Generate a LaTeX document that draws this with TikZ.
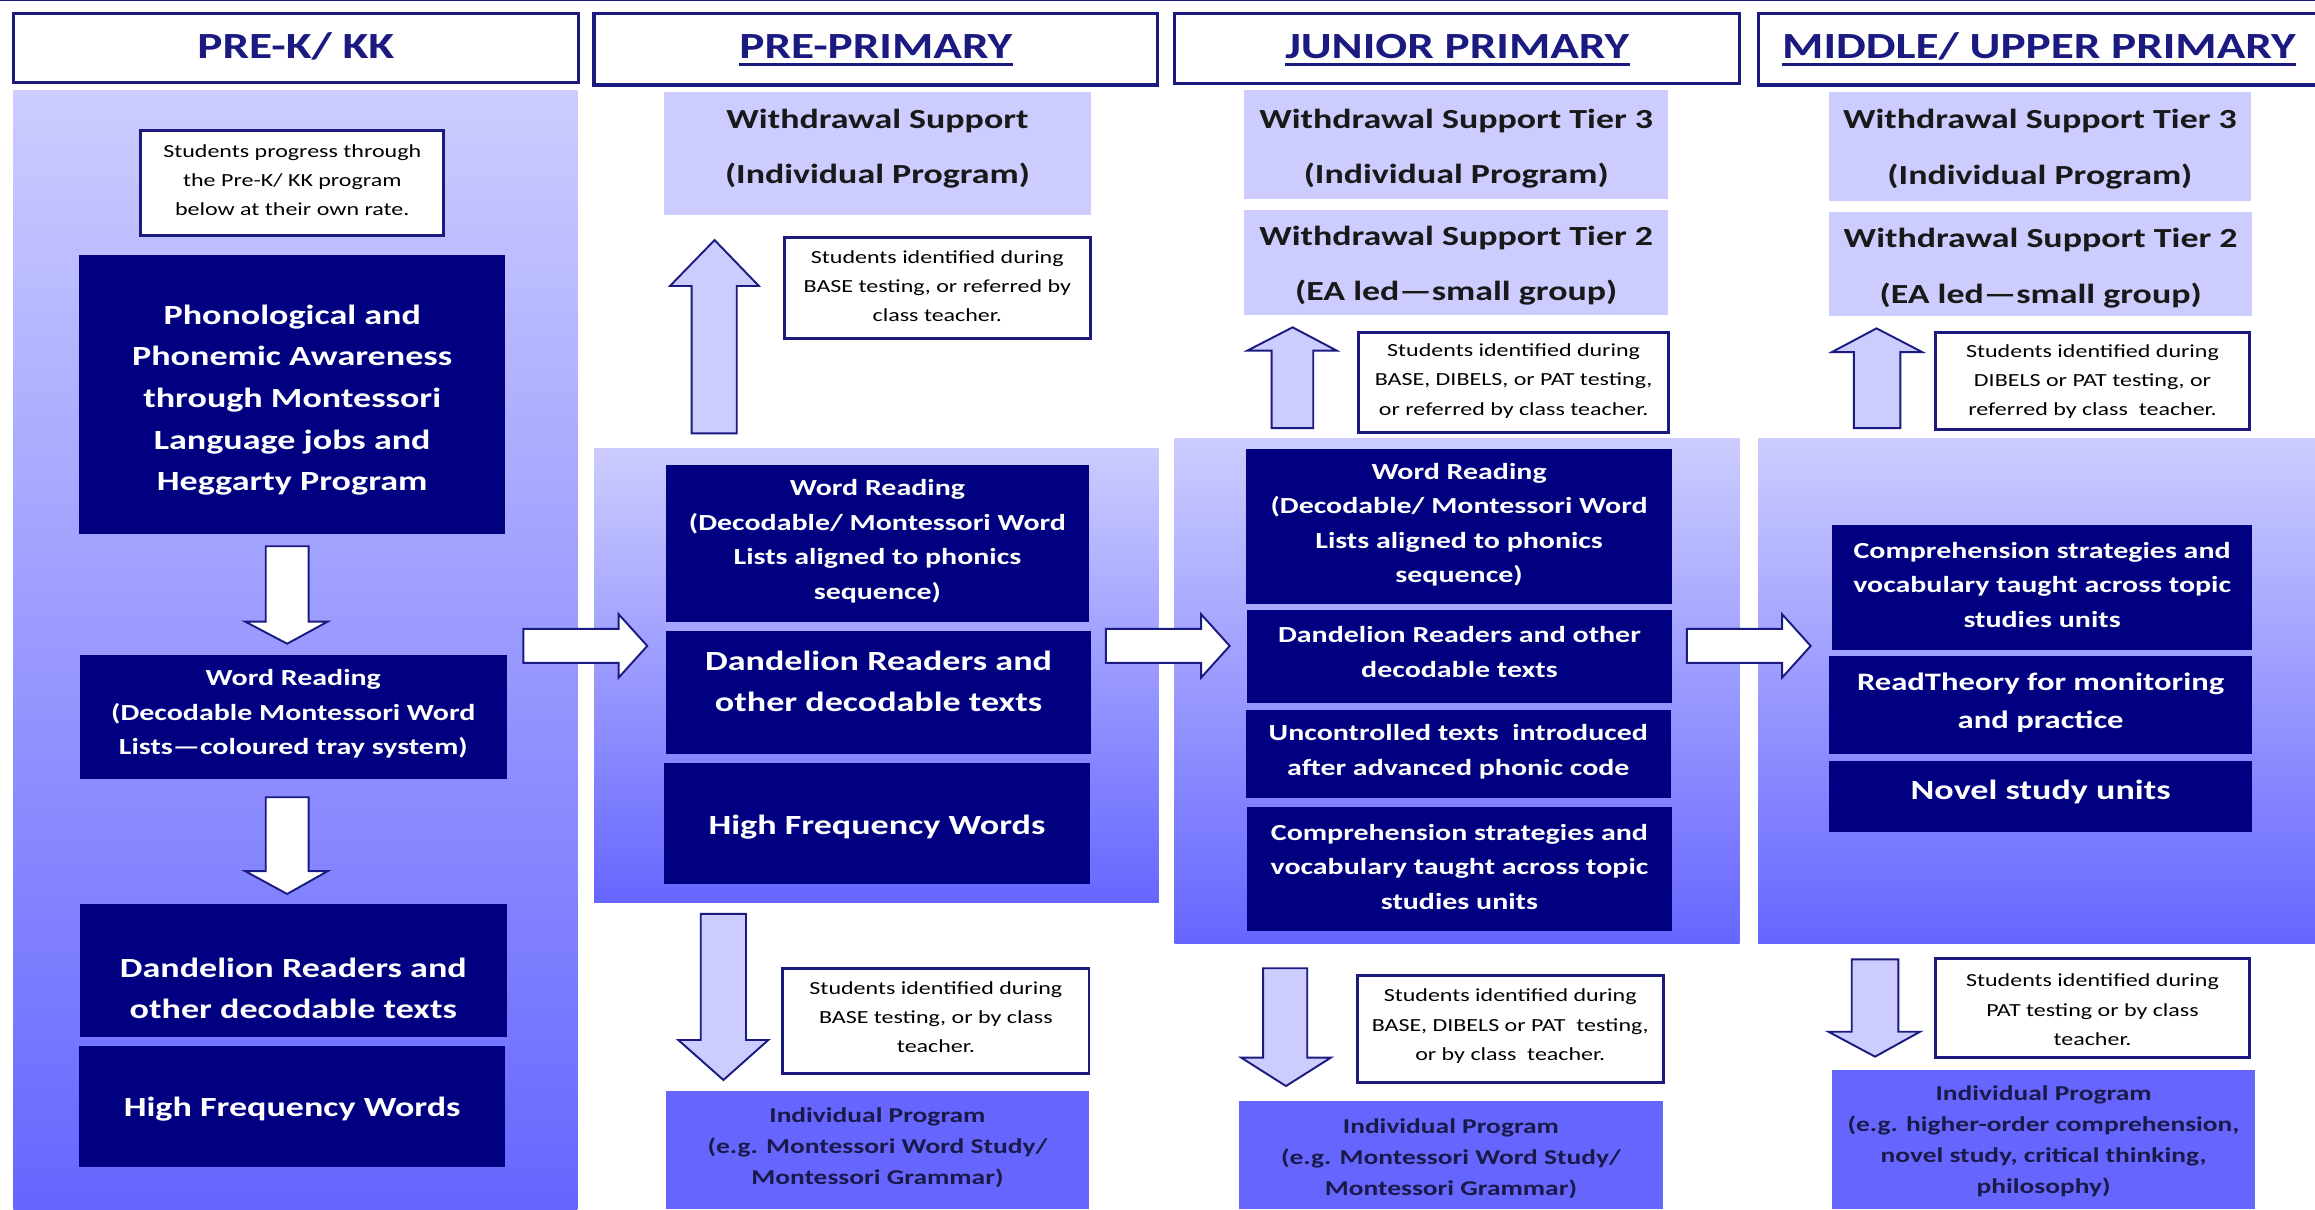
\documentclass[tikz,border=0pt]{standalone}
\usepackage{fontspec}
\setmainfont{Carlito}
\definecolor{navyB}{HTML}{000080}
\definecolor{navyT}{HTML}{1A1A80}
\definecolor{lav}{HTML}{CCCCFF}
\definecolor{blueI}{HTML}{6666FF}
\definecolor{indtxt}{HTML}{1A1A4A}
\newcommand\bx[9]{%
  \node[#2, minimum width={#5-#3}, minimum height={#6-#4}] (#1) at ({(#3+#5)/2},{(#4+#6)/2}) {};
  \node[#7] (#1t) at ({(#3+#5)/2},#8) {#9};}
\newcommand\pnl[5]{%
  \node[top color=lav, bottom color=blueI, inner sep=0pt, minimum width={#4-#2}, minimum height={#5-#3}] (#1) at ({(#2+#4)/2},{(#3+#5)/2}) {};}
\tikzset{
  hdrbox/.style={draw=navyT, line width=2.2pt, fill=white, inner sep=0pt},
  ntbox/.style={draw=navyT, line width=2pt, fill=white, inner sep=0pt},
  dk/.style={fill=navyB, inner sep=0pt},
  wdbox/.style={fill=lav, inner sep=0pt},
  indbox/.style={fill=blueI, inner sep=0pt},
  thdr/.style={inner sep=0pt, xscale=1.28, anchor=base, text=navyT, font=\bfseries\fontsize{25}{30}\selectfont},
  twd/.style={align=center, inner sep=0pt, xscale=1.3, yshift=-1.5pt, text=black!90, font=\bfseries\fontsize{18.7}{37.5}\selectfont},
  tbig/.style={align=center, inner sep=0pt, xscale=1.3, yshift=-2pt, text=white, font=\bfseries\fontsize{18.8}{28.2}\selectfont},
  tmed/.style={align=center, inner sep=0pt, xscale=1.3, yshift=-1.5pt, text=white, font=\bfseries\fontsize{15.6}{23.4}\selectfont},
  trt/.style={align=center, inner sep=0pt, xscale=1.3, yshift=-1.5pt, text=white, font=\bfseries\fontsize{17}{26}\selectfont},
  tnote/.style={align=center, inner sep=0pt, xscale=1.3, yshift=-0.5pt, text=black, font=\fontsize{12.5}{19.8}\selectfont},
  tind/.style={align=center, inner sep=0pt, xscale=1.3, yshift=-2pt, text=indtxt, font=\bfseries\fontsize{14.3}{21}\selectfont},
  arrW/.style={draw=navyT, line width=1.3pt, fill=white, line join=miter},
  arrL/.style={draw=navyT, line width=1.3pt, fill=lav, line join=miter},
}
\begin{document}
\begin{tikzpicture}[x=1pt,y=-1pt]
\useasboundingbox (0,0) rectangle (1568,819);
\fill[white] (0,0) rectangle (1568,819);
\draw[navyT, line width=1pt] (0,0.5) -- (1568,0.5);

% ---------- headers ----------
\node[hdrbox, minimum width={391.8-9}, minimum height={55.7-9.1}] (h1) at ({(9+391.8)/2},{(9.1+55.7)/2}) {};
\node[thdr] (h1t) at (200.4,39.6) {PRE-K/ KK};
\node[hdrbox, minimum width={784-402.4}, minimum height={57.5-9.1}] (h2) at ({(402.4+784)/2},{(9.1+57.5)/2}) {};
\node[thdr] (h2t) at (593.2,39.6) {PRE-PRIMARY};
\node[hdrbox, minimum width={1178.3-795.7}, minimum height={56.5-9.1}] (h3) at ({(795.7+1178.3)/2},{(9.1+56.5)/2}) {};
\node[thdr] (h3t) at (987,39.6) {JUNIOR PRIMARY};
\node[hdrbox, minimum width={1571.5-1190.8}, minimum height={57.5-9.1}] (h4) at ({(1190.8+1571.5)/2},{(9.1+57.5)/2}) {};
\node[thdr] (h4t) at (1381,39.6) {MIDDLE/ UPPER PRIMARY};
\foreach \h in {h2t,h3t,h4t}{
  \draw[navyT, line width=2pt] ([yshift=-4pt]\h.base west) -- ([yshift=-4pt]\h.base east);
}

% ---------- column 1 ----------
\pnl{p1}{9}{61}{391}{819}
\bx{n1}{ntbox}{95.2}{88.1}{300.7}{159.4}{tnote}{121.5}{Students progress through\\the Pre-K/ KK program\\below at their own rate.}
\bx{d1}{dk}{53.6}{172.4}{342.2}{361.8}{tbig}{269}{Phonological and\\Phonemic Awareness\\through Montessori\\Language jobs and\\Heggarty Program}
\bx{d2}{dk}{54.1}{443.7}{343.2}{527.4}{tmed}{482}{Word Reading\\(Decodable Montessori Word\\Lists—coloured tray system)}
\bx{d3}{dk}{54.1}{612.4}{343.2}{702.3}{tbig}{667.5}{Dandelion Readers and\\other decodable texts}
\bx{d4}{dk}{53.6}{708.3}{342.2}{790.4}{tbig}{749}{High Frequency Words}
\draw[arrW] (180,370) -- (209,370) -- (209,421) -- (222,421) -- (194.5,436) -- (166,421) -- (180,421) -- cycle;
\draw[arrW] (180,540) -- (209,540) -- (209,590) -- (222,590) -- (194.5,605.5) -- (166,590) -- (180,590) -- cycle;

% ---------- column 2 ----------
\bx{w2}{wdbox}{449.5}{62.2}{739.1}{145.7}{twd}{99}{Withdrawal Support\\(Individual Program)}
\bx{n2a}{ntbox}{531.1}{160.7}{738.6}{229.1}{tnote}{193.5}{Students identified during\\BASE testing, or referred by\\class teacher.}
\pnl{p2}{402.4}{303.8}{785}{611.6}
\bx{d5}{dk}{451}{314.7}{737.6}{421.4}{tmed}{365}{Word Reading\\(Decodable/ Montessori Word\\Lists aligned to phonics\\sequence)}
\bx{d6}{dk}{451}{427.4}{739.1}{510.8}{tbig}{459.5}{Dandelion Readers and\\other decodable texts}
\bx{d7}{dk}{450}{516.9}{738}{599}{tbig}{558}{High Frequency Words}
\bx{n2b}{ntbox}{530.2}{655.8}{737.6}{727.3}{tnote}{688.5}{Students identified during\\BASE testing, or by class\\teacher.}
\bx{i2}{indbox}{451}{739.2}{737.6}{819}{tind}{775.5}{Individual Program\\(e.g. Montessori Word Study/\\Montessori Grammar)}
\draw[arrL] (468.5,293.5) -- (499,293.5) -- (499,193.7) -- (514,193.7) -- (484,162.6) -- (453.8,193.7) -- (468.5,193.7) -- cycle;
\draw[arrL] (474.6,619) -- (505.3,619) -- (505.3,704.4) -- (520.4,704.4) -- (490,731.5) -- (459.4,704.4) -- (474.6,704.4) -- cycle;

% ---------- column 3 ----------
\bx{w3a}{wdbox}{842.6}{61.2}{1130}{134.8}{twd}{99}{Withdrawal Support Tier 3\\(Individual Program)}
\bx{w3b}{wdbox}{842.6}{142}{1130}{213.1}{twd}{178.5}{Withdrawal Support Tier 2\\(EA led—small group)}
\bx{n3a}{ntbox}{920.4}{225}{1130}{292.9}{tnote}{257.5}{Students identified during\\BASE, DIBELS, or PAT testing,\\or referred by class teacher.}
\pnl{p3}{795.6}{296.8}{1178.3}{639.2}
\bx{d8}{dk}{844.1}{303.8}{1132.4}{409}{tmed}{354}{Word Reading\\(Decodable/ Montessori Word\\Lists aligned to phonics\\sequence)}
\bx{d9}{dk}{844.6}{413}{1132.4}{476.1}{tmed}{440}{Dandelion Readers and other\\decodable texts}
\bx{d10}{dk}{844}{480.6}{1131.5}{540.5}{tmed}{507.5}{Uncontrolled texts\ \ introduced\\after advanced phonic code}
\bx{d11}{dk}{844.6}{546.6}{1132.4}{630.8}{tmed}{585.5}{Comprehension strategies and\\vocabulary taught across topic\\studies units}
\bx{n3b}{ntbox}{919.4}{661}{1126.4}{733.1}{tnote}{694.5}{Students identified during\\BASE, DIBELS or PAT\ \ testing,\\or by class\ \ teacher.}
\bx{i3}{indbox}{839.1}{745.7}{1126.4}{819}{tind}{782.5}{Individual Program\\(e.g. Montessori Word Study/\\Montessori Grammar)}
\draw[arrL] (861.3,290) -- (889.5,290) -- (889.5,237.5) -- (905.4,237.5) -- (875.5,221.7) -- (844.8,237.5) -- (861.3,237.5) -- cycle;
\draw[arrL] (855.5,655.8) -- (885.4,655.8) -- (885.4,716.3) -- (901.5,716.3) -- (871,735.6) -- (840.6,716.3) -- (855.5,716.3) -- cycle;

% ---------- column 4 ----------
\bx{w4a}{wdbox}{1238.7}{62.2}{1524.6}{136}{twd}{99.5}{Withdrawal Support Tier 3\\(Individual Program)}
\bx{w4b}{wdbox}{1238.7}{143.4}{1525.6}{214.1}{twd}{180}{Withdrawal Support Tier 2\\(EA led—small group)}
\bx{n4a}{ntbox}{1311}{225}{1523.6}{290.8}{tnote}{258}{Students identified during\\DIBELS or PAT testing, or\\referred by class\ \ teacher.}
\pnl{p4}{1190.8}{296.8}{1575}{639.2}
\bx{d12}{dk}{1240.7}{355.6}{1525.6}{440.1}{tmed}{394.5}{Comprehension strategies and\\vocabulary taught across topic\\studies units}
\bx{d13}{dk}{1238.7}{444}{1525.6}{510.8}{trt}{474.5}{ReadTheory for monitoring\\and practice}
\bx{d14}{dk}{1238.7}{515.6}{1525.6}{563.7}{tbig}{534.5}{Novel study units}
\bx{n4b}{ntbox}{1311}{649.1}{1523.6}{716.3}{tnote}{683.5}{Students identified during\\PAT testing or by class\\teacher.}
\bx{i4}{indbox}{1240.7}{724.7}{1527.6}{819}{tind}{771}{Individual Program\\(e.g. higher-order comprehension,\\novel study, critical thinking,\\philosophy)}
\draw[arrL] (1255.7,290) -- (1287.1,290) -- (1287.1,238.5) -- (1302,238.5) -- (1271,222.4) -- (1240.7,238.5) -- (1255.7,238.5) -- cycle;
\draw[arrL] (1254.2,649.8) -- (1285.8,649.8) -- (1285.8,698.8) -- (1300.5,698.8) -- (1270,715.7) -- (1238.4,698.8) -- (1254.2,698.8) -- cycle;

% ---------- horizontal arrows between columns ----------
\foreach \dx in {0,394.5,788}{
  \draw[arrW, xshift=\dx pt] (354.5,426) -- (419,426) -- (419,416) -- (438.4,437.5) -- (419,459) -- (419,449) -- (354.5,449) -- cycle;
}
\end{tikzpicture}
\end{document}
